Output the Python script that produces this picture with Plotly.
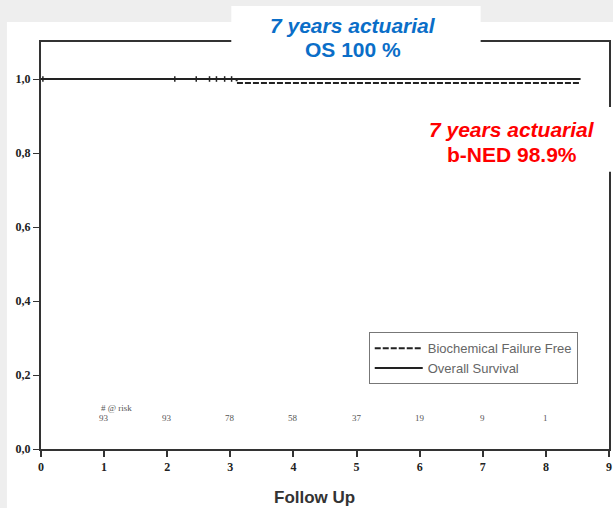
import plotly.graph_objects as go

# Kaplan-Meier style step data (years of follow up)
os_time = [0.0, 8.55]
os_surv = [1.0, 1.0]
bf_time = [0.0, 3.1, 8.55]
bf_surv = [1.0, 0.989, 0.989]

# censored observations on the curves
censor_time = [0.03, 2.12, 2.46, 2.67, 2.78, 2.91, 3.02]
censor_surv = [1.0, 1.0, 1.0, 1.0, 1.0, 1.0, 1.0]

# numbers at risk by year
risk_years = [1, 2, 3, 4, 5, 6, 7, 8]
risk_counts = [93, 93, 78, 58, 37, 19, 9, 1]

x_ticks = list(range(0, 10))
y_ticks = [0.0, 0.2, 0.4, 0.6, 0.8, 1.0]
y_tick_text = ["0,0", "0,2", "0,4", "0,6", "0,8", "1,0"]

BLUE = "#0A6EC8"
RED = "#FF0000"

fig = go.Figure()

fig.add_trace(go.Scatter(
    x=bf_time, y=bf_surv, mode="lines", line_shape="hv",
    name="Biochemical Failure Free",
    line=dict(color="#222222", width=2, dash="6px,2px"),
))
fig.add_trace(go.Scatter(
    x=os_time, y=os_surv, mode="lines", line_shape="hv",
    name="Overall Survival",
    line=dict(color="#222222", width=2),
))
fig.add_trace(go.Scatter(
    x=censor_time, y=censor_surv, mode="markers", showlegend=False,
    marker=dict(symbol="line-ns", size=4, line=dict(color="#222222", width=1.5)),
    hoverinfo="skip",
))

# number-at-risk table inside the plot
for yr, n in zip(risk_years, risk_counts):
    fig.add_annotation(x=yr, y=0.084, xref="x", yref="y", text=str(n),
                       showarrow=False, xanchor="center", yanchor="middle",
                       font=dict(family="Liberation Serif", size=9, color="#555555"))
fig.add_annotation(x=0.92, y=0.111, xref="x", yref="y", text="# @ risk",
                   showarrow=False, xanchor="left", yanchor="middle",
                   font=dict(family="Liberation Serif", size=9, color="#555555"))

# slide card background and text boxes
fig.add_shape(type="rect", xref="paper", yref="paper",
              x0=-0.06, x1=1.01, y0=-0.15, y1=1.049,
              fillcolor="white", line=dict(width=0), layer="below")
fig.add_shape(type="rect", xref="paper", yref="paper",
              x0=0.335, x1=0.774, y0=0.995, y1=1.0885,
              fillcolor="white", line=dict(width=0), layer="above")
fig.add_shape(type="rect", xref="paper", yref="paper",
              x0=0.656, x1=1.01, y0=0.681, y1=0.840,
              fillcolor="white", line=dict(width=0), layer="above")

def note(x, y, text, color, size=21):
    fig.add_annotation(x=x, y=y, xref="paper", yref="paper", text=text,
                       showarrow=False, xanchor="center", yanchor="middle",
                       font=dict(family="Liberation Sans", size=size, color=color))

note(0.550, 1.0417, "<b><i>7 years actuarial</i></b>", BLUE)
note(0.550, 0.9828, "<b>OS 100 %</b>", BLUE)
note(0.830, 0.7838, "<b><i>7 years actuarial</i></b>", RED)
note(0.830, 0.7248, "<b>b-NED 98.9%</b>", RED)
note(0.482, -0.118, "<b>Follow Up</b>", "#333333", size=17)

axis_font = dict(family="Liberation Serif", size=12, color="#222222", weight="bold")

fig.update_layout(
    width=613, height=508,
    margin=dict(l=41, r=2, t=42, b=59),
    paper_bgcolor="#eeeeee",
    plot_bgcolor="white",
    showlegend=True,
    legend=dict(
        x=0.577, y=0.287, xanchor="left", yanchor="top",
        bgcolor="white", bordercolor="#777777", borderwidth=1,
        font=dict(family="Liberation Sans", size=13, color="#666666"),
        itemwidth=48, tracegroupgap=0,
    ),
    xaxis=dict(
        range=[0, 9], tickvals=x_ticks, ticktext=[str(v) for v in x_ticks],
        showgrid=False, zeroline=False,
        showline=True, linecolor="#333333", linewidth=2, mirror=True,
        ticks="outside", ticklen=6, tickwidth=2, tickcolor="#333333",
        tickfont=axis_font,
    ),
    yaxis=dict(
        range=[0, 1.1], tickvals=y_ticks, ticktext=y_tick_text,
        showgrid=False, zeroline=False,
        showline=True, linecolor="#333333", linewidth=2, mirror=True,
        ticks="outside", ticklen=6, tickwidth=1, tickcolor="#333333",
        tickfont=axis_font,
    ),
)

fig.write_html("out.html")
